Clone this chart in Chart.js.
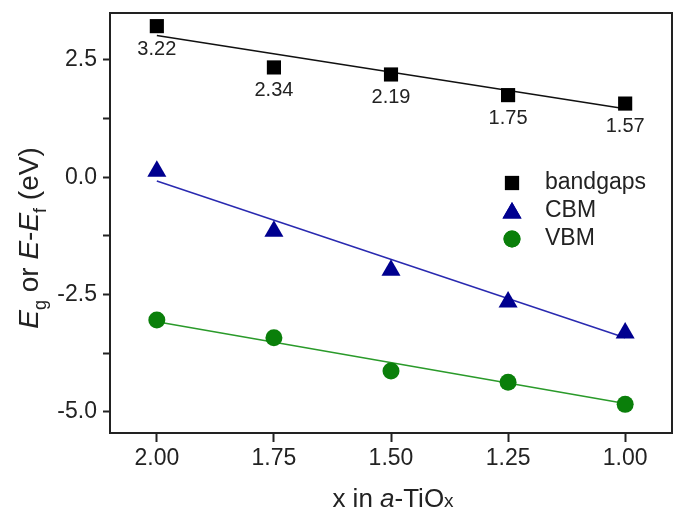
<!DOCTYPE html>
<html>
<head>
<meta charset="utf-8">
<script src="https://cdn.jsdelivr.net/npm/chart.js@4"></script>
<style>
  body { margin: 0; background: #fff; }
  #wrap { width: 674px; height: 513px; }
</style>
</head>
<body>
<div id="wrap"><canvas id="chart" width="674" height="513"></canvas></div>
<script>
// x values (x in a-TiOx)
const xVals = [2.00, 1.75, 1.50, 1.25, 1.00];
const bandgaps = [3.22, 2.34, 2.19, 1.75, 1.57];
const cbm = [0.13, -1.15, -1.98, -2.66, -3.32];
const vbm = [-3.04, -3.42, -4.13, -4.37, -4.84];

// fitted lines, read at both ends
const fitX = [2.00, 1.00];
const bandgapFit = [3.02, 1.46];
const cbmFit = [-0.08, -3.42];
const vbmFit = [-3.08, -4.82];

const xTicks = [2.00, 1.75, 1.50, 1.25, 1.00];
const yTicks = [2.5, 0.0, -2.5, -5.0];

const FONT = "'Liberation Sans', Arial, sans-serif";
const INK = "#222";

const pts = (xs, ys) => xs.map((x, i) => ({ x: x, y: ys[i] }));

// draws a run of text pieces (italic / subscript) centred on x
function drawRich(ctx, parts, x, y, size) {
  const fontOf = p => (p.italic ? "italic " : "") + (p.sub ? Math.round(size * 0.65) : (p.small ? Math.round(size * 0.72) : size)) + "px " + FONT;
  let total = 0;
  parts.forEach(p => { ctx.font = fontOf(p); total += ctx.measureText(p.t).width; });
  let cx = x - total / 2;
  ctx.textAlign = "left";
  ctx.textBaseline = "alphabetic";
  parts.forEach(p => {
    ctx.font = fontOf(p);
    ctx.fillText(p.t, cx, y + (p.sub ? size * 0.3 : 0));
    cx += ctx.measureText(p.t).width;
  });
}

const noPad = scale => {
  scale.paddingLeft = 0;
  scale.paddingRight = 0;
  scale.paddingTop = 0;
  scale.paddingBottom = 0;
};

const decor = {
  id: "decor",
  beforeDatasetsDraw(chart) {
    const { ctx, chartArea: a } = chart;
    ctx.save();
    ctx.strokeStyle = INK;
    ctx.lineWidth = 2;
    ctx.strokeRect(a.left, a.top, a.right - a.left, a.bottom - a.top);
    ctx.restore();
  },
  afterDraw(chart) {
    const { ctx } = chart;
    ctx.save();
    ctx.fillStyle = INK;

    // labels under the bandgap points
    const meta = chart.getDatasetMeta(0);
    ctx.font = "20px " + FONT;
    ctx.textAlign = "center";
    ctx.textBaseline = "middle";
    meta.data.forEach((el, i) => {
      ctx.fillText(bandgaps[i].toFixed(2), el.x, el.y + 23);
    });

    // legend
    const rows = [
      { label: "bandgaps", style: "rect", color: "#000", r: 10 },
      { label: "CBM", style: "triangle", color: "#00008f", r: 11 },
      { label: "VBM", style: "circle", color: "#0a7f0a", r: 8.5 }
    ];
    rows.forEach((row, i) => {
      const y = 183 + i * 28;
      ctx.fillStyle = row.color;
      Chart.helpers.drawPoint(ctx, { pointStyle: row.style, radius: row.r, borderWidth: 0 }, 512, y + (row.style === "triangle" ? 2 : 0));
      ctx.fill();
      ctx.fillStyle = INK;
      ctx.font = "23px " + FONT;
      ctx.textAlign = "left";
      ctx.textBaseline = "middle";
      ctx.fillText(row.label, 545, y);
    });

    // x axis title
    const a = chart.chartArea;
    drawRich(ctx, [
      { t: "x in " },
      { t: "a", italic: true },
      { t: "-TiO" },
      { t: "x", small: true }
    ], (a.left + a.right) / 2 + 2, 507, 26);

    // y axis title
    ctx.translate(38, 238);
    ctx.rotate(-Math.PI / 2);
    drawRich(ctx, [
      { t: "E", italic: true },
      { t: "g", sub: true },
      { t: " or " },
      { t: "E", italic: true },
      { t: "-" },
      { t: "E", italic: true },
      { t: "f", sub: true },
      { t: " (eV)" }
    ], 0, 0, 28);
    ctx.restore();
  }
};

const chart = new Chart(document.getElementById("chart"), {
  type: "scatter",
  data: {
    datasets: [
      {
        label: "bandgaps",
        data: pts(xVals, bandgaps),
        pointStyle: "rect",
        pointRadius: 10,
        pointHoverRadius: 10,
        backgroundColor: "#000",
        borderWidth: 0,
        order: 1
      },
      {
        label: "CBM",
        data: pts(xVals, cbm),
        pointStyle: "triangle",
        pointRadius: 11,
        pointHoverRadius: 11,
        backgroundColor: "#00008f",
        borderWidth: 0,
        order: 1
      },
      {
        label: "VBM",
        data: pts(xVals, vbm),
        pointStyle: "circle",
        pointRadius: 8.5,
        pointHoverRadius: 8.5,
        backgroundColor: "#0a7f0a",
        borderWidth: 0,
        order: 1
      },
      {
        label: "bandgaps fit",
        data: pts(fitX, bandgapFit),
        showLine: true,
        borderColor: "#111",
        borderWidth: 1.5,
        pointRadius: 0,
        order: 2
      },
      {
        label: "CBM fit",
        data: pts(fitX, cbmFit),
        showLine: true,
        borderColor: "#2a2ab0",
        borderWidth: 1.5,
        pointRadius: 0,
        order: 2
      },
      {
        label: "VBM fit",
        data: pts(fitX, vbmFit),
        showLine: true,
        borderColor: "#2a9a2a",
        borderWidth: 1.5,
        pointRadius: 0,
        order: 2
      }
    ]
  },
  options: {
    responsive: false,
    animation: false,
    layout: { autoPadding: false, padding: { top: 13, right: 2, left: 0, bottom: 0 } },
    plugins: {
      legend: { display: false },
      tooltip: { enabled: false }
    },
    scales: {
      x: {
        type: "linear",
        reverse: true,
        min: 0.9,
        max: 2.1,
        afterFit(scale) { scale.height = 80; noPad(scale); },
        afterBuildTicks(scale) { scale.ticks = xTicks.map(v => ({ value: v })); },
        ticks: {
          callback: v => v.toFixed(2),
          font: { size: 23, family: FONT },
          color: INK,
          padding: 3,
          maxRotation: 0
        },
        grid: { drawOnChartArea: false, tickLength: 9, tickWidth: 2, color: INK },
        border: { display: false }
      },
      y: {
        type: "linear",
        min: -5.45,
        max: 3.5,
        afterFit(scale) { scale.width = 110; noPad(scale); },
        afterBuildTicks(scale) {
          const all = [];
          yTicks.forEach(v => { all.push({ value: v }); all.push({ value: v - 1.25 }); });
          scale.ticks = all.filter(t => t.value >= -5.45 && t.value <= 3.5);
        },
        ticks: {
          callback: v => (yTicks.includes(v) ? v.toFixed(1) : ""),
          font: { size: 23, family: FONT },
          color: INK,
          padding: 6
        },
        grid: { drawOnChartArea: false, tickLength: 7, tickWidth: 2, color: INK },
        border: { display: false }
      }
    }
  },
  plugins: [decor]
});
</script>
</body>
</html>
